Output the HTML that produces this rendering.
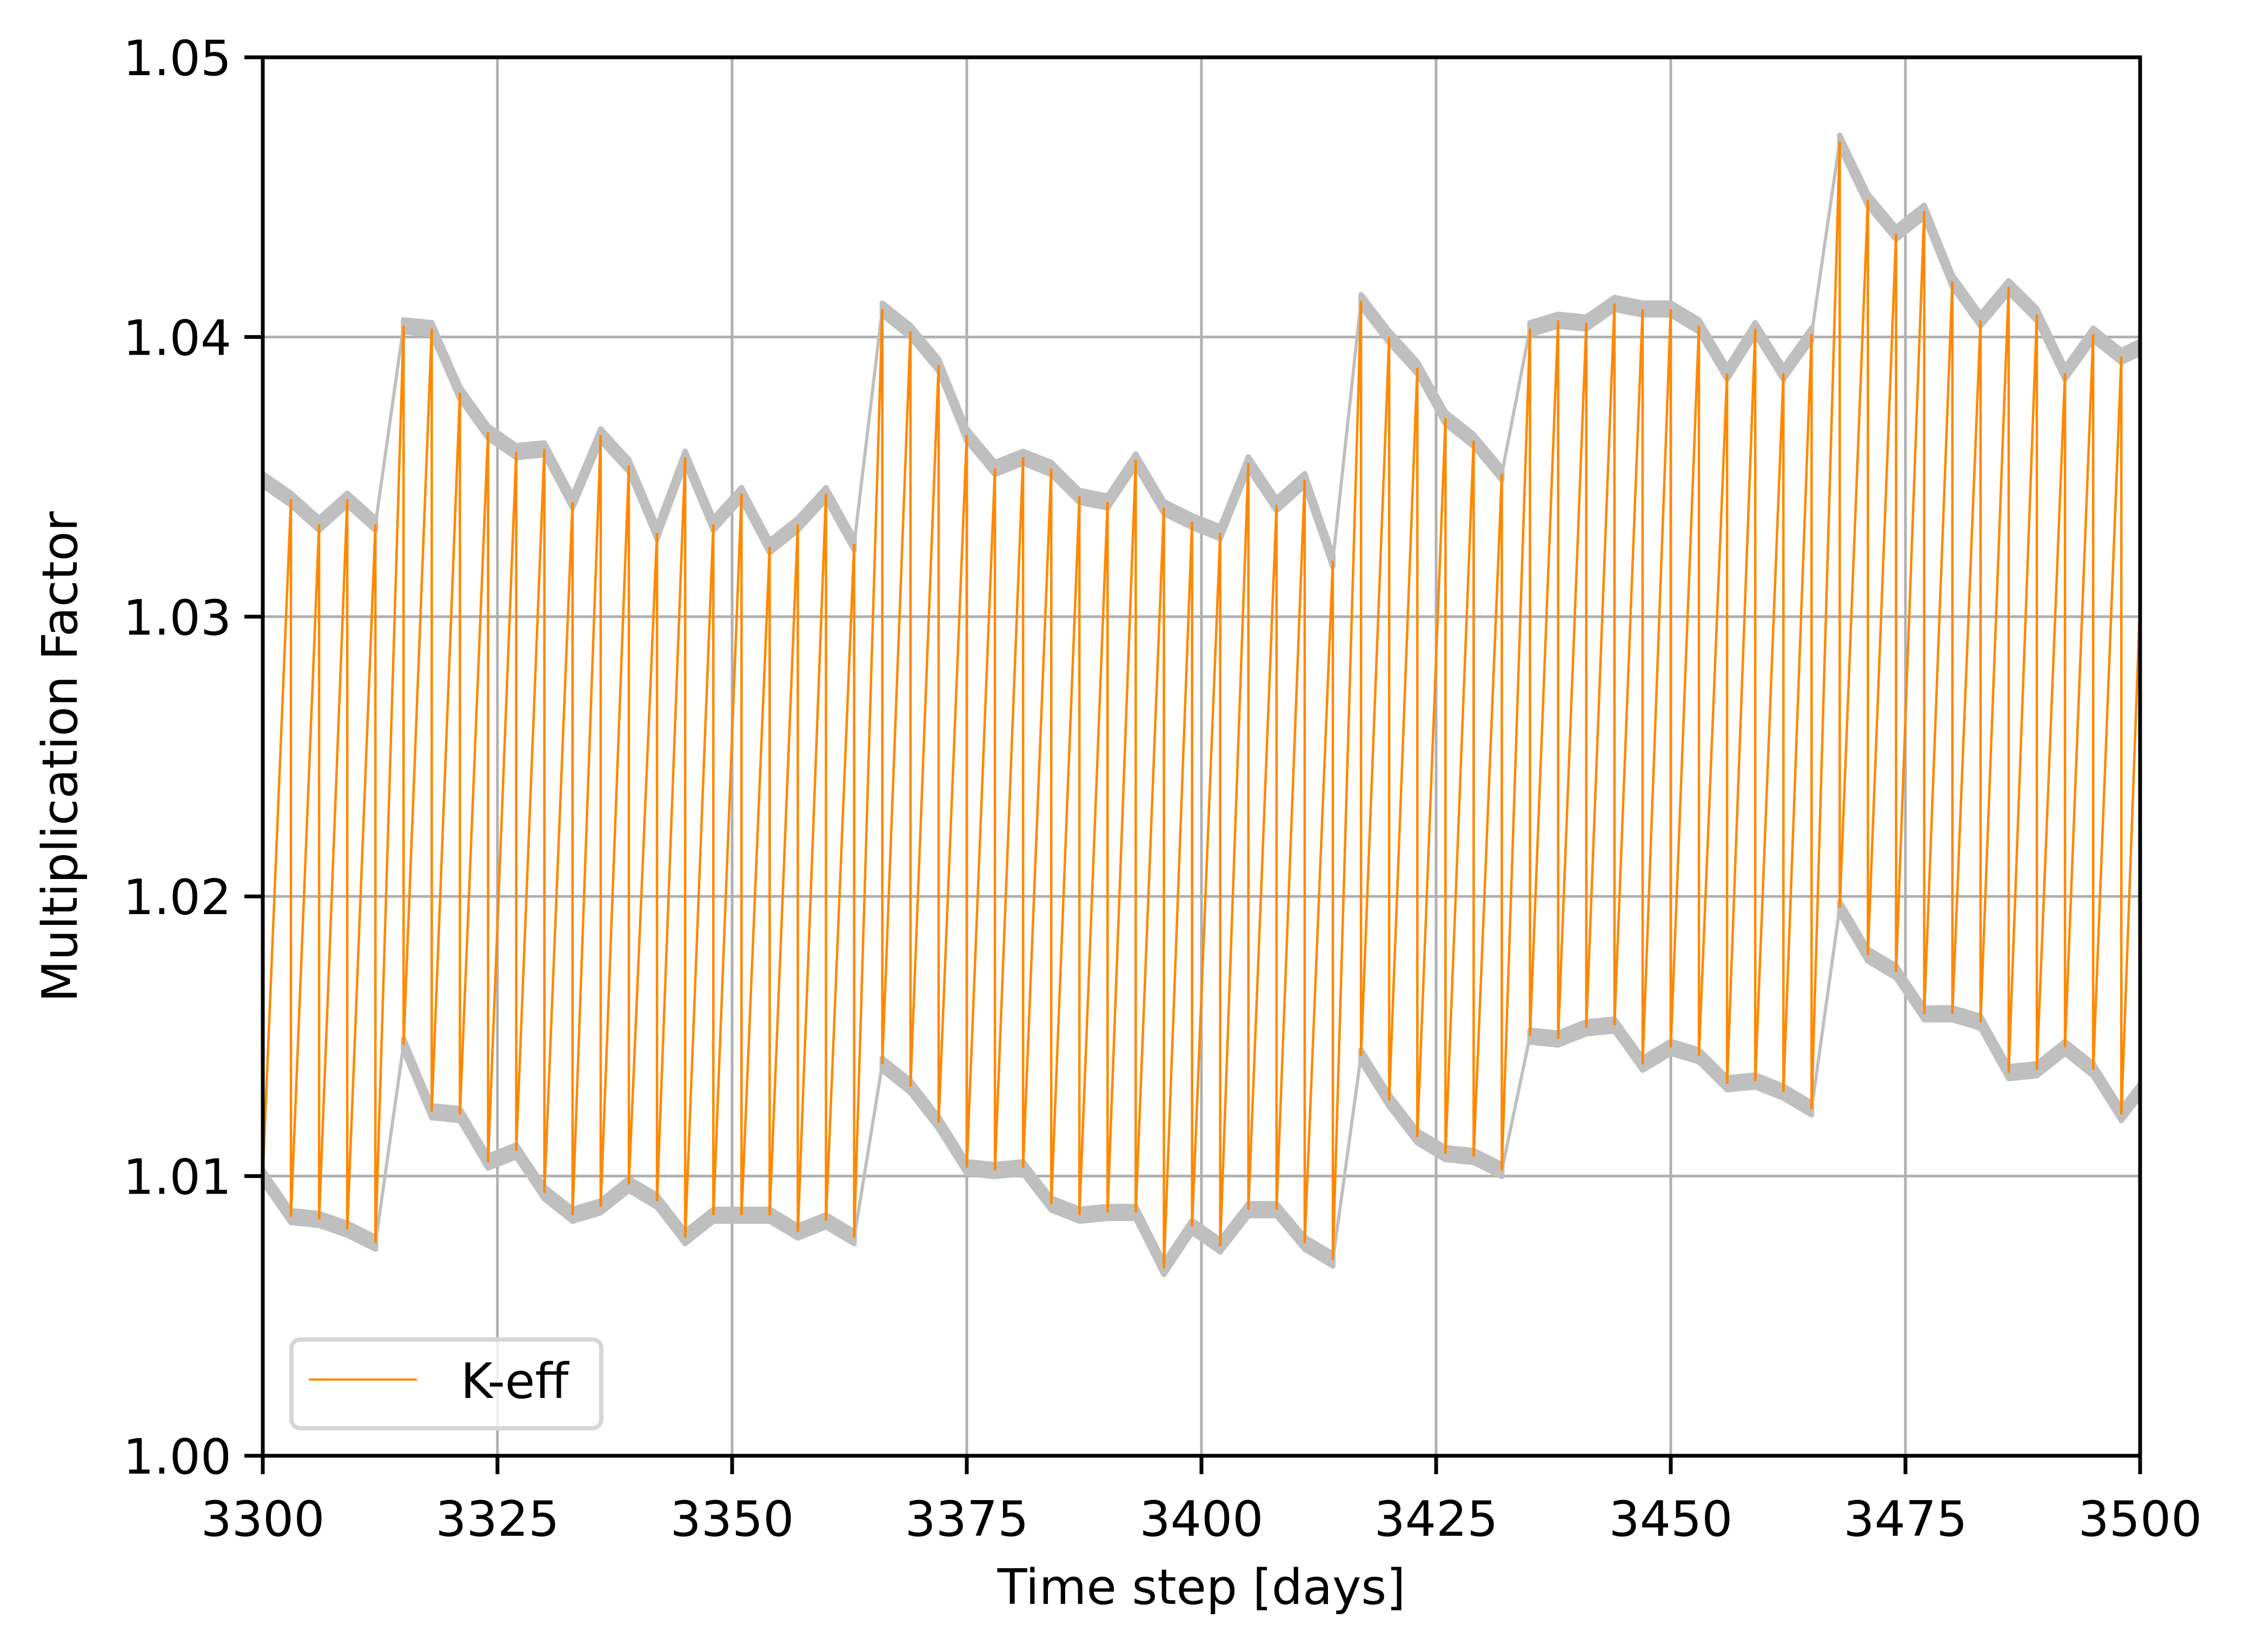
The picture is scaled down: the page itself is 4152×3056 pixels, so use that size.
<!DOCTYPE html>
<html><head><meta charset="utf-8"><style>
html,body{margin:0;padding:0;background:#fff;}
svg{display:block;font-family:"DejaVu Sans","Liberation Sans",sans-serif;}
</style></head><body>
<svg id="chart" width="4152" height="3056" viewBox="0 0 4152 3056" xmlns="http://www.w3.org/2000/svg">
<rect width="4152" height="3056" fill="#fff"/>
<defs><clipPath id="clip"><rect x="486" y="106" width="3472" height="2587"/></clipPath></defs>
<g id="grid"></g>
<g id="bands" clip-path="url(#clip)"></g>
<g id="series" clip-path="url(#clip)"></g>
<g id="axes"></g>
<g id="legend">
<rect x="539" y="2478" width="573" height="164" rx="16" fill="#fff" fill-opacity="0.8" stroke="#d6d6d6" stroke-width="8"/>
<line x1="571" y1="2552" x2="771" y2="2552" stroke="#ff8800" stroke-width="4"/>
<text x="852" y="2586" font-size="90" fill="#000">K-eff</text>
</g>
<text x="2222" y="2967" font-size="90" text-anchor="middle">Time step [days]</text>
<text x="0" y="0" font-size="90" text-anchor="middle" transform="translate(142,1400) rotate(-90)">Multiplication Factor</text>
</svg>
<script>
const days = [3300,3303,3306,3309,3312,3315,3318,3321,3324,3327,3330,3333,3336,3339,3342,3345,3348,3351,3354,3357,3360,3363,3366,3369,3372,3375,3378,3381,3384,3387,3390,3393,3396,3399,3402,3405,3408,3411,3414,3417,3420,3423,3426,3429,3432,3435,3438,3441,3444,3447,3450,3453,3456,3459,3462,3465,3468,3471,3474,3477,3480,3483,3486,3489,3492,3495,3498,3501];
const highs = [1.0349,1.0342,1.0333,1.0342,1.0333,1.0404,1.0403,1.0380,1.0366,1.0359,1.0360,1.0341,1.0365,1.0354,1.0330,1.0357,1.0333,1.0344,1.0325,1.0333,1.0344,1.0326,1.0410,1.0402,1.0390,1.0365,1.0353,1.0357,1.0353,1.0343,1.0341,1.0356,1.0339,1.0334,1.0330,1.0355,1.0340,1.0349,1.0320,1.0413,1.0400,1.0389,1.0371,1.0363,1.0351,1.0403,1.0406,1.0405,1.0412,1.0410,1.0410,1.0404,1.0387,1.0403,1.0387,1.0401,1.0470,1.0449,1.0437,1.0445,1.0420,1.0406,1.0418,1.0408,1.0387,1.0401,1.0393,1.0398];
const lows = [1.0100,1.00855,1.00845,1.0081,1.0076,1.0147,1.0123,1.0122,1.0105,1.0109,1.0094,1.0086,1.0089,1.0097,1.0091,1.0078,1.0086,1.0086,1.0086,1.0080,1.0084,1.0078,1.0140,1.0132,1.0119,1.0103,1.0102,1.0103,1.0090,1.0086,1.0087,1.0087,1.0067,1.0082,1.0075,1.0088,1.0088,1.0076,1.0070,1.0143,1.0127,1.0114,1.0108,1.0107,1.0102,1.0150,1.0149,1.0153,1.0154,1.0140,1.0146,1.0143,1.0133,1.0134,1.0130,1.0124,1.0196,1.0179,1.0173,1.0158,1.0158,1.0155,1.0137,1.0138,1.0146,1.0138,1.0122,1.0135];
const xTicks = [3300,3325,3350,3375,3400,3425,3450,3475,3500];
const yTicks = [1.00,1.01,1.02,1.03,1.04,1.05];
const yTickLabels = ["1.00","1.01","1.02","1.03","1.04","1.05"];

const X0=486,X1=3958,Y0=2693,Y1=106;
const xMin=3300,xMax=3500,yMin=1.00,yMax=1.05;
function sx(v){return X0+(v-xMin)/(xMax-xMin)*(X1-X0);}
function sy(v){return Y0-(v-yMin)/(yMax-yMin)*(Y0-Y1);}
const NS="http://www.w3.org/2000/svg";
function mk(tag,attrs,parent){const e=document.createElementNS(NS,tag);for(const k in attrs)e.setAttribute(k,attrs[k]);parent.appendChild(e);return e;}

const grid=document.getElementById('grid');
xTicks.forEach(t=>{
  const l=mk('line',{x1:sx(t),x2:sx(t),y1:Y1,y2:Y0,stroke:'#b0b0b0','stroke-width':5},grid);
  
  
});
yTicks.forEach(t=>{
  const l=mk('line',{x1:X0,x2:X1,y1:sy(t),y2:sy(t),stroke:'#b0b0b0','stroke-width':5},grid);
  
  
});

const bands=document.getElementById('bands');
const H=11;
function band(vals,name){
  for(let i=0;i<vals.length-1;i++){
    const jump=(lows[i+1]-lows[i])>0.003;
    const xa=sx(days[i]),xb=sx(days[i+1]),ya=sy(vals[i]),yb=sy(vals[i+1]);
    let s;
    if(jump){
      s=mk('line',{x1:xa,y1:ya,x2:xb,y2:yb,stroke:'#bfbfbf','stroke-width':6},bands);
    } else {
      s=mk('polygon',{points:`${xa},${ya-H} ${xb},${yb-H} ${xb},${yb+H} ${xa},${ya+H}`,fill:'#bfbfbf',stroke:'#bfbfbf','stroke-width':10,'stroke-linejoin':'round'},bands);
    }
    
    
  }
}
band(highs,'upper-band-segment');
band(lows,'lower-band-segment');

const series=document.getElementById('series');
let pts=[];
for(let i=0;i<days.length;i++){
  if(i>0) pts.push(sx(days[i])+','+sy(highs[i]));
  pts.push(sx(days[i])+','+sy(lows[i]));
}
const pl=mk('polyline',{points:pts.join(' '),fill:'none',stroke:'#ff8800','stroke-width':4.5,'stroke-linejoin':'miter'},series);



const axes=document.getElementById('axes');
const frame=mk('rect',{x:X0,y:Y1,width:X1-X0,height:Y0-Y1,fill:'none',stroke:'#000','stroke-width':7},axes);


xTicks.forEach(t=>{
  const tk=mk('line',{x1:sx(t),x2:sx(t),y1:Y0,y2:Y0+34,stroke:'#000','stroke-width':7},axes);
  
  
  const tx=mk('text',{x:sx(t),y:Y0+148,'font-size':90,'text-anchor':'middle',fill:'#000'},axes);
  tx.textContent=String(t);
  
  
});
yTicks.forEach((t,i)=>{
  const tk=mk('line',{x1:X0-34,x2:X0,y1:sy(t),y2:sy(t),stroke:'#000','stroke-width':7},axes);
  
  
  const tx=mk('text',{x:X0-58,y:sy(t)+33,'font-size':90,'text-anchor':'end',fill:'#000'},axes);
  tx.textContent=yTickLabels[i];
  
  
});
</script>
</body></html>
